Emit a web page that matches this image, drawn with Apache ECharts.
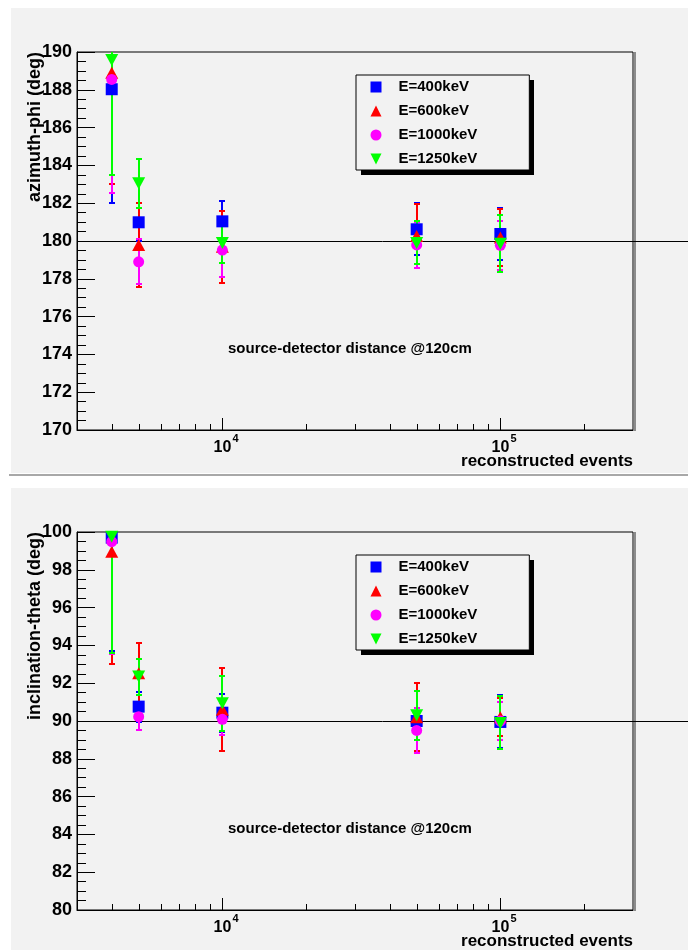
<!DOCTYPE html>
<html>
<head>
<meta charset="utf-8">
<script src="https://cdn.jsdelivr.net/npm/echarts@6/dist/echarts.min.js"></script>
<style>
html,body{margin:0;padding:0;background:#fff;}
#chart{width:688px;height:950px;}
</style>
</head>
<body>
<div id="chart"></div>
<script>
// ---------- data ----------
const xEvents = [4000, 5000, 10000, 50000, 100000];
const energyLabels = ['E=400keV', 'E=600keV', 'E=1000keV', 'E=1250keV'];

// azimuth-phi (deg)
const phi400 = [188.03, 180.99, 181.04, 180.62, 180.37];
const phi400Err = [6.0, 1.0, 1.06, 1.38, 1.40];
const phi600 = [188.90, 179.79, 179.70, 180.26, 180.19];
const phi600Err = [5.9, 2.2, 1.9, 1.7, 1.5];
const phi1000 = [188.55, 178.90, 179.52, 179.79, 179.77];
const phi1000Err = [6.0, 1.2, 1.4, 1.24, 1.3];
const phi1250 = [189.58, 183.06, 179.90, 179.90, 179.86];
const phi1250Err = [6.1, 1.3, 1.05, 1.14, 1.5];

// inclination-theta (deg)
const theta400 = [99.70, 90.76, 90.44, 90.00, 89.95];
const theta400Err = [6.0, 0.8, 1.0, 1.6, 1.4];
const theta600 = [98.96, 92.52, 90.60, 90.20, 90.20];
const theta600Err = [5.93, 1.62, 2.2, 1.8, 1.0];
const theta1000 = [99.49, 90.23, 90.09, 89.50, 90.00];
const theta1000Err = [5.93, 0.71, 0.85, 1.2, 1.0];
const theta1250 = [99.75, 92.35, 90.94, 90.30, 89.90];
const theta1250Err = [6.14, 0.95, 1.45, 1.3, 1.4];

const phiRange = [170, 190];
const thetaRange = [80, 100];
const phiRef = 180;
const thetaRef = 90;
const xRange = [3000, 300000];
const xMajorTicks = [10000, 100000];
const xMajorExp = ['4', '5'];
const xMinorTicks = [4000, 5000, 6000, 7000, 8000, 9000, 20000, 30000, 40000, 50000, 60000, 70000, 80000, 90000, 200000];

const yTitles = ['azimuth-phi (deg)', 'inclination-theta (deg)'];
const xTitle = 'reconstructed events';
const noteText = 'source-detector distance @120cm';

// ---------- styles ----------
const FONT = "'Liberation Sans', Arial, sans-serif";
const colors = ['#0000ff', '#ff0000', '#ff00ff', '#00ff00'];
const symbols = ['rect', 'triangle', 'circle', 'path://M0,0L10,0L5,10Z'];
const symbolSizes = [12, [13, 12], 11, [13, 12]];

const grids = [
  {left: 77, top: 52, width: 556, height: 378},
  {left: 77, top: 532, width: 556, height: 378}
];
const legendBoxes = [
  {left: 356, top: 75, width: 173, height: 95},
  {left: 356, top: 555, width: 173, height: 95}
];

function errRender(color) {
  return function (params, api) {
    const cs = params.coordSys;
    const x = api.value(0), y = api.value(1), e = api.value(2);
    const px = Math.round(api.coord([x, y])[0]);
    let top = api.coord([x, y + e])[1];
    let bot = api.coord([x, y - e])[1];
    const ymin = cs.y, ymax = cs.y + cs.height;
    const topClip = top < ymin, botClip = bot > ymax;
    top = Math.round(Math.max(top, ymin));
    bot = Math.round(Math.min(bot, ymax));
    const st = {stroke: color, lineWidth: 2};
    const ch = [{type: 'line', shape: {x1: px, y1: top, x2: px, y2: bot}, style: st}];
    if (!topClip) ch.push({type: 'line', shape: {x1: px - 3, y1: top, x2: px + 3, y2: top}, style: st});
    if (!botClip) ch.push({type: 'line', shape: {x1: px - 3, y1: bot, x2: px + 3, y2: bot}, style: st});
    return {type: 'group', children: ch};
  };
}

function refRender(params, api) {
  const cs = params.coordSys;
  const py = Math.round(api.coord([api.value(0), api.value(1)])[1]) + 0.5;
  return {type: 'line', shape: {x1: cs.x, y1: py, x2: api.getWidth(), y2: py},
          style: {stroke: '#000', lineWidth: 1}};
}

function minorTickRender(params, api) {
  const cs = params.coordSys;
  const px = Math.round(api.coord([api.value(0), api.value(1)])[0]) + 0.5;
  const b = cs.y + cs.height;
  return {type: 'line', shape: {x1: px, y1: b, x2: px, y2: b - 6}, style: {stroke: '#000', lineWidth: 1}};
}

function majorTickRender(params, api) {
  const cs = params.coordSys;
  const px = Math.round(api.coord([api.value(0), api.value(1)])[0]) + 0.5;
  const b = cs.y + cs.height;
  return {type: 'group', children: [
    {type: 'line', shape: {x1: px, y1: b, x2: px, y2: b - 12}, style: {stroke: '#000', lineWidth: 1}},
    {type: 'text', x: px, y: b + 18, style: {text: '10', fontFamily: FONT, fontWeight: 'bold', fontSize: 16,
      fill: '#000', align: 'center', verticalAlign: 'middle'}},
    {type: 'text', x: px + 10, y: b + 9, style: {text: xMajorExp[params.dataIndex], fontFamily: FONT, fontWeight: 'bold', fontSize: 11,
      fill: '#000', align: 'left', verticalAlign: 'middle'}}
  ]};
}

const panelData = [
  {vals: [phi400, phi600, phi1000, phi1250], errs: [phi400Err, phi600Err, phi1000Err, phi1250Err], range: phiRange, ref: phiRef},
  {vals: [theta400, theta600, theta1000, theta1250], errs: [theta400Err, theta600Err, theta1000Err, theta1250Err], range: thetaRange, ref: thetaRef}
];

const series = [];
const xAxes = [], yAxes = [];
panelData.forEach((p, gi) => {
  xAxes.push({
    type: 'log', gridIndex: gi, min: xRange[0], max: xRange[1],
    axisLine: {show: true, lineStyle: {color: '#000', width: 1}},
    axisTick: {show: false}, axisLabel: {show: false}, splitLine: {show: false}
  });
  yAxes.push({
    type: 'value', gridIndex: gi, min: p.range[0], max: p.range[1], interval: 2,
    axisLine: {show: true, lineStyle: {color: '#000', width: 1}},
    axisTick: {show: true, inside: true, length: 18, lineStyle: {color: '#000', width: 1}},
    minorTick: {show: true, splitNumber: 4, length: 9, lineStyle: {color: '#000', width: 1}},
    axisLabel: {color: '#000', fontFamily: FONT, fontWeight: 'bold', fontSize: 18, margin: 5},
    splitLine: {show: false}
  });
  series.push({
    type: 'custom', xAxisIndex: gi, yAxisIndex: gi, clip: false, silent: true,
    data: xMinorTicks.map(v => [v, p.range[0]]), encode: {x: 0, y: 1}, renderItem: minorTickRender, z: 1
  });
  series.push({
    type: 'custom', xAxisIndex: gi, yAxisIndex: gi, clip: false, silent: true,
    data: xMajorTicks.map(v => [v, p.range[0]]), encode: {x: 0, y: 1}, renderItem: majorTickRender, z: 1
  });
  series.push({
    type: 'custom', xAxisIndex: gi, yAxisIndex: gi, clip: false, silent: true,
    data: [[xRange[0], p.ref]], encode: {x: 0, y: 1}, renderItem: refRender, z: 1
  });
  energyLabels.forEach((name, si) => {
    series.push({
      type: 'custom', name: name, xAxisIndex: gi, yAxisIndex: gi, clip: false, silent: true,
      itemStyle: {color: colors[si]},
      data: xEvents.map((x, i) => [x, p.vals[si][i], p.errs[si][i]]),
      encode: {x: 0, y: 1}, renderItem: errRender(colors[si]), z: 2
    });
    series.push({
      type: 'scatter', name: name, xAxisIndex: gi, yAxisIndex: gi,
      data: xEvents.map((x, i) => [x, p.vals[si][i]]),
      symbol: symbols[si], symbolSize: symbolSizes[si],
      itemStyle: {color: colors[si], opacity: 1}, z: 2
    });
  });
});

function legendFor(box) {
  return {
    orient: 'vertical', left: box.left, top: box.top,
    data: energyLabels.map((n, i) => ({name: n, icon: symbols[i], itemStyle: {color: colors[i]}})),
    itemWidth: 11, itemHeight: 11, itemGap: 8,
    padding: [4, 52, 3, 14.5],
    backgroundColor: '#f2f2f2', borderColor: '#000', borderWidth: 1,
    selectedMode: false, z: 6,
    textStyle: {color: '#000', fontFamily: FONT, fontWeight: 'bold', fontSize: 15, lineHeight: 16, padding: [0, 0, 0, 12]}
  };
}

const graphics = [
  {type: 'rect', shape: {x: 11, y: 8, width: 677, height: 465}, style: {fill: '#f2f2f2'}, z: -10},
  {type: 'rect', shape: {x: 9, y: 474, width: 679, height: 2}, style: {fill: '#a8a8a8'}, z: -10},
  {type: 'rect', shape: {x: 11, y: 488, width: 677, height: 462}, style: {fill: '#f2f2f2'}, z: -10}
];
legendBoxes.forEach(b => {
  graphics.push({type: 'rect', shape: {x: b.left + 5, y: b.top + 5, width: b.width, height: b.height},
    style: {fill: '#000'}, z: 3});
});
grids.forEach((g, gi) => {
  graphics.push({type: 'rect', shape: {x: g.left + g.width + 1, y: g.top, width: 2, height: g.height + 1},
    style: {fill: '#8c8c8c'}, z: 1});
  graphics.push({type: 'text', x: 35, y: g.top, rotation: Math.PI / 2,
    style: {text: yTitles[gi], fontFamily: FONT, fontWeight: 'bold', fontSize: 18, fill: '#000',
      align: 'right', verticalAlign: 'middle'}, z: 5});
  graphics.push({type: 'text', x: g.left + g.width, y: g.top + g.height + 31,
    style: {text: xTitle, fontFamily: FONT, fontWeight: 'bold', fontSize: 17, fill: '#000',
      align: 'right', verticalAlign: 'middle'}, z: 5});
  graphics.push({type: 'text', x: 228, y: g.top + 297,
    style: {text: noteText, fontFamily: FONT, fontWeight: 'bold', fontSize: 15, fill: '#000',
      align: 'left', verticalAlign: 'middle'}, z: 5});
});

const chart = echarts.init(document.getElementById('chart'), null, {renderer: 'canvas'});
chart.setOption({
  animation: false,
  backgroundColor: '#ffffff',
  grid: grids.map(g => Object.assign({show: true, borderColor: '#000', borderWidth: 1, backgroundColor: 'transparent', containLabel: false}, g)),
  xAxis: xAxes,
  yAxis: yAxes,
  legend: legendBoxes.map(legendFor),
  graphic: {elements: graphics},
  series: series
});
</script>
</body>
</html>
